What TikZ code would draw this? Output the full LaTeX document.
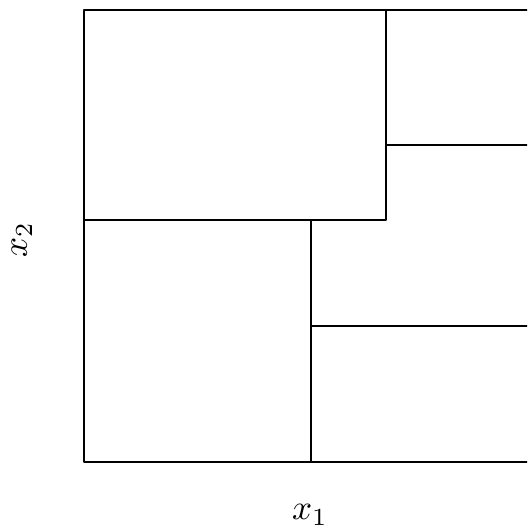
\documentclass[tikz,border=0pt]{standalone}
\usepackage{amsmath}
\usetikzlibrary{positioning}
\tikzset{
  every picture/.style={line join=round},
  cell/.style={line width=0.35pt},
}
\begin{document}
\begin{tikzpicture}
    % Frame
    \useasboundingbox (0,0) rectangle (5.27,5.32);
    \clip (0,0) rectangle (5.27,5.32);
    % Outer square
    \draw[cell] (5.37,5.22) -- (0.84,5.22) -- (0.84,0.70) -- (5.37,0.70);
    % Upper split
    \draw[cell] (3.86,5.22) -- (3.86,3.12) -- (0.84,3.12);
    \draw[cell] (3.86,3.87) -- (5.37,3.87);
    % Lower split
    \draw[cell] (3.11,3.12) -- (3.11,0.70);
    \draw[cell] (3.11,2.06) -- (5.37,2.06);
    % Axis labels
    \node (xone) at (3.10,0.17) {$x_1$};
    \node[rotate=90] (xtwo) at (0.22,2.92) {$x_2$};
\end{tikzpicture}
\end{document}
